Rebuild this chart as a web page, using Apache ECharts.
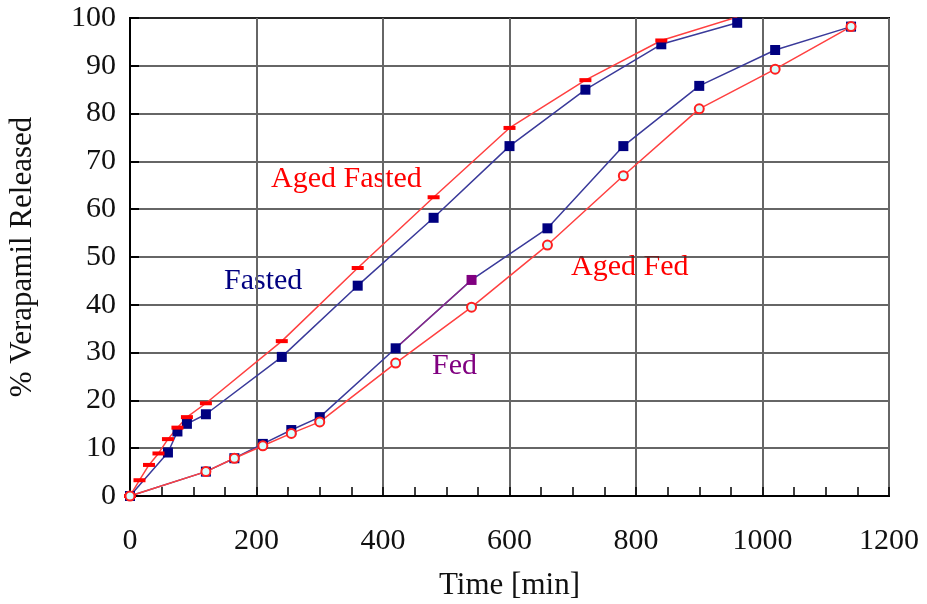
<!DOCTYPE html>
<html>
<head>
<meta charset="utf-8">
<script src="https://cdn.jsdelivr.net/npm/echarts@6/dist/echarts.min.js"></script>
<style>
  html, body { margin: 0; padding: 0; background: #fff; }
  #chart { width: 927px; height: 604px; }
</style>
</head>
<body>
<div id="chart"></div>
<script>
// 数据（时间单位：min，释放量：%）
var agedFastedTime = [0, 15, 30, 45, 60, 75, 90, 120, 240, 360, 480, 600, 720, 840, 960];
var agedFastedVal = [0, 3.3, 6.5, 8.9, 11.9, 14.3, 16.5, 19.4, 32.4, 47.7, 62.5, 77.0, 87.0, 95.3, 100.2];

var fastedTime = [0, 60, 75, 90, 120, 240, 360, 480, 600, 720, 840, 960];
var fastedVal = [0, 9.1, 13.5, 15.1, 17.1, 29.1, 44.0, 58.2, 73.2, 85.0, 94.5, 99.0];

var fedTime = [0, 120, 165, 210, 255, 300, 420, 540, 660, 780, 900, 1020, 1140];
var fedVal = [0, 5.1, 7.9, 10.9, 13.8, 16.5, 30.9, 45.2, 56.0, 73.2, 85.8, 93.3, 98.2];

var agedFedTime = [0, 120, 165, 210, 255, 300, 420, 540, 660, 780, 900, 1020, 1140];
var agedFedVal = [0, 5.1, 7.9, 10.5, 13.1, 15.5, 27.8, 39.5, 52.5, 67.0, 81.0, 89.3, 98.2];

var purpleIndex = 7; // Fed 540 min 点为紫色

function pairs(t, v) {
    return t.map(function (x, i) { return [x, v[i]]; });
}

var serif = '"Liberation Serif", "DejaVu Serif", serif';

var myChart = echarts.init(document.getElementById('chart'));
var option = {
    animation: false,
    backgroundColor: '#fff',
    grid: {
        left: 130, right: 38, top: 18, bottom: 108,
        outerBoundsMode: 'none',
        show: true, borderColor: '#000', borderWidth: 2
    },
    xAxis: [{
            type: 'value', min: 0, max: 1200, interval: 200,
            name: 'Time [min]', nameLocation: 'middle', nameGap: 74,
            nameTextStyle: { fontFamily: serif, fontSize: 31, color: '#111' },
            axisLine: { lineStyle: { color: '#000', width: 2 } },
            axisTick: { inside: true, length: 9, lineStyle: { color: '#000', width: 1.5 } },
            axisLabel: {
                fontFamily: serif, fontSize: 30, color: '#111', margin: 30,
                formatter: function (v) { return String(v); }
            },
            splitLine: { lineStyle: { color: '#666', width: 2 } }
        },
        {
            // 小刻度（每 50 min）
            type: 'value', min: 0, max: 1200, interval: 50, position: 'bottom',
            axisLine: { show: false },
            axisTick: { show: true, inside: true, length: 9, lineStyle: { color: '#000', width: 1.5 } },
            axisLabel: { show: false },
            splitLine: { show: false }
        }
    ],
    yAxis: {
        type: 'value', min: 0, max: 100, interval: 10,
        name: '% Verapamil Released', nameLocation: 'middle', nameGap: 92,
        nameTextStyle: { fontFamily: serif, fontSize: 31, color: '#111' },
        axisLine: { show: true, lineStyle: { color: '#000', width: 2 } },
        axisTick: { show: true, inside: true, length: 9, lineStyle: { color: '#000', width: 2 } },
        axisLabel: { fontFamily: serif, fontSize: 30, color: '#111', margin: 14 },
        splitLine: { lineStyle: { color: '#333', width: 1.5 } }
    },
    series: [{
            name: 'Fasted', type: 'line', data: pairs(fastedTime, fastedVal),
            symbol: 'rect', symbolSize: 10,
            itemStyle: { color: '#000080' },
            lineStyle: { color: '#3a3a9a', width: 1.5 }
        },
        {
            name: 'Aged Fasted', type: 'line', data: pairs(agedFastedTime, agedFastedVal),
            symbol: 'rect', symbolSize: [12, 4],
            itemStyle: { color: '#ff0000' },
            lineStyle: { color: '#ff4040', width: 1.5 }
        },
        {
            name: 'Fed', type: 'line',
            data: pairs(fedTime, fedVal).map(function (p, i) {
                return i === purpleIndex ? { value: p, itemStyle: { color: '#800080' } } : p;
            }),
            symbol: 'rect', symbolSize: 10,
            itemStyle: { color: '#000080' },
            lineStyle: { color: '#3a3a9a', width: 1.5 }
        },
        {
            name: 'Fed segment', type: 'line',
            data: pairs(fedTime, fedVal).slice(purpleIndex - 1, purpleIndex + 1),
            symbol: 'none', silent: true,
            lineStyle: { color: '#8a2a8a', width: 1.5 }
        },
        {
            name: 'Aged Fed', type: 'line', data: pairs(agedFedTime, agedFedVal),
            symbol: 'circle', symbolSize: 9,
            itemStyle: { color: '#d8ffff', borderColor: '#ff2020', borderWidth: 2 },
            lineStyle: { color: '#ff4040', width: 1.5 }
        }
    ],
    graphic: [
        { type: 'text', left: 271, top: 164, style: { text: 'Aged Fasted', fill: '#ff0000', font: '30px ' + serif } },
        { type: 'text', left: 224, top: 266, style: { text: 'Fasted', fill: '#000080', font: '30px ' + serif } },
        { type: 'text', left: 571, top: 252, style: { text: 'Aged Fed', fill: '#ff0000', font: '30px ' + serif } },
        { type: 'text', left: 432, top: 351, style: { text: 'Fed', fill: '#800080', font: '30px ' + serif } }
    ]
};
myChart.setOption(option);
</script>
</body>
</html>
